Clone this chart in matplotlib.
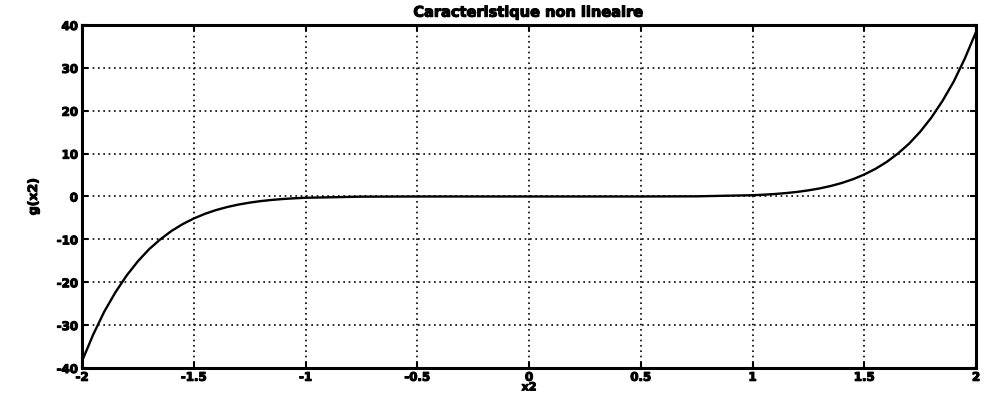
import matplotlib
matplotlib.use("Agg")
import matplotlib.pyplot as plt
import matplotlib.patheffects as pe

# Sampled nonlinear characteristic g(x2)
x2_left = [-2.00, -1.95, -1.90, -1.85, -1.80, -1.75, -1.70, -1.65, -1.60, -1.55,
           -1.50, -1.45, -1.40, -1.35, -1.30, -1.25, -1.20, -1.15, -1.10, -1.05, -1.00]
g_left = [-38.4, -32.2, -26.8, -22.3, -18.4, -15.1, -12.3, -10.0, -8.05, -6.45,
          -5.13, -4.04, -3.16, -2.45, -1.88, -1.43, -1.07, -0.80, -0.58, -0.42, -0.30]
x2_mid = [-0.75, -0.50, -0.25, 0.00, 0.25, 0.50, 0.75]
g_mid = [-0.04, -0.002, 0.0, 0.0, 0.0, 0.002, 0.04]
x2_right = [1.00, 1.05, 1.10, 1.15, 1.20, 1.25, 1.30, 1.35, 1.40, 1.45,
            1.50, 1.55, 1.60, 1.65, 1.70, 1.75, 1.80, 1.85, 1.90, 1.95, 2.00]
g_right = [0.30, 0.42, 0.58, 0.80, 1.07, 1.43, 1.88, 2.45, 3.16, 4.04,
           5.13, 6.45, 8.05, 10.0, 12.3, 15.1, 18.4, 22.3, 26.8, 32.2, 38.4]

x_ticks = [-2, -1.5, -1, -0.5, 0, 0.5, 1, 1.5, 2]
x_tick_labels = ["-2", "-1.5", "-1", "-0.5", "0", "0.5", "1", "1.5", "2"]
y_ticks = [-40, -30, -20, -10, 0, 10, 20, 30, 40]
y_tick_labels = ["-40", "-30", "-20", "-10", "0", "10", "20", "30", "40"]

x2 = x2_left + x2_mid + x2_right
g = g_left + g_mid + g_right

heavy = [pe.withStroke(linewidth=0.8, foreground="black")]

fig = plt.figure(figsize=(9.86, 3.95), dpi=100)
ax = fig.add_axes([0.0832, 0.0684, 0.9067, 0.8683])

ax.plot(x2, g, color="black", linewidth=1.7)

ax.set_xlim(-2, 2)
ax.set_ylim(-40, 40)
ax.set_xticks(x_ticks)
ax.set_xticklabels(x_tick_labels)
ax.set_yticks(y_ticks)
ax.set_yticklabels(y_tick_labels)

ax.grid(True, color="black", linestyle=(0, (1, 2.2)), linewidth=1.2)
ax.tick_params(direction="in", length=4, width=1.5, top=True, right=True,
               labelsize=8.5, colors="black")
ax.tick_params(axis="x", pad=2)
ax.tick_params(axis="y", pad=3)
for lbl in ax.get_xticklabels() + ax.get_yticklabels():
    lbl.set_fontweight("heavy")
    lbl.set_path_effects(heavy)
for sp in ax.spines.values():
    sp.set_linewidth(2.2)
    sp.set_color("black")

ax.set_title("Caracteristique non lineaire", fontsize=10.5, fontweight="heavy",
             pad=6, path_effects=heavy)
ax.set_xlabel("x2", fontsize=8, fontweight="heavy", labelpad=-1, path_effects=heavy)
ax.set_ylabel("g(x2)", fontsize=9, fontweight="heavy", labelpad=12, path_effects=heavy)

fig.savefig("out.png", dpi=100)
